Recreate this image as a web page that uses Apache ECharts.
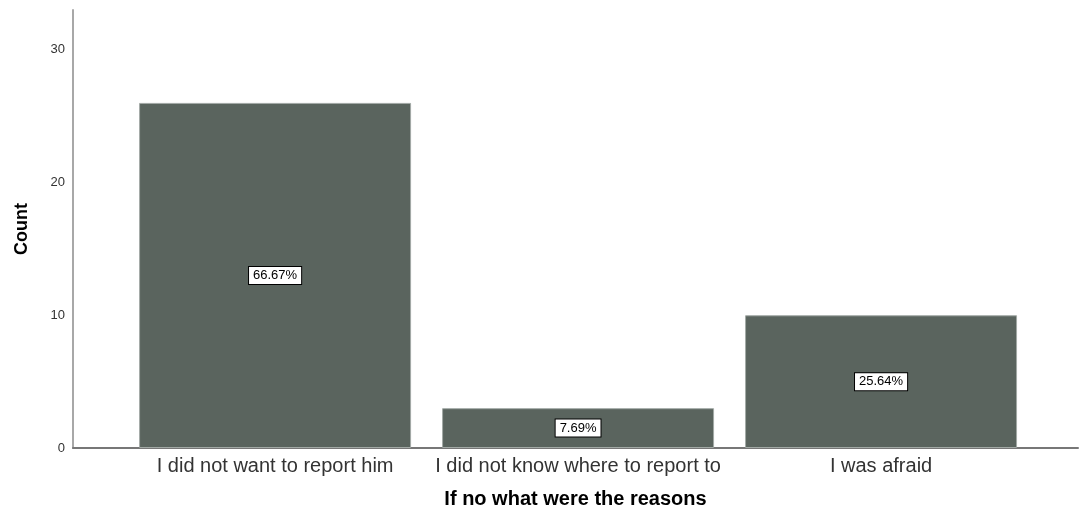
<!DOCTYPE html>
<html>
<head>
<meta charset="utf-8">
<script src="https://cdn.jsdelivr.net/npm/echarts@6/dist/echarts.min.js"></script>
<style>
  html, body {margin: 0; padding: 0; background: #fff;}
  #main {width: 1080px; height: 511px;}
</style>
</head>
<body>
<div id="main"></div>
<script>
// category names, counts and the percent labels as printed on the bars
const categories = ['I did not want to report him', 'I did not know where to report to', 'I was afraid'];
const counts = [26, 3, 10];
const percentLabels = ['66.67%', '7.69%', '25.64%'];
const yTicks = [0, 10, 20, 30];

const chart = echarts.init(document.getElementById('main'));

const barData = counts.map((c, i) => [i + 1, c]);

const option = {
  animation: false,
  textStyle: {fontFamily: '"Liberation Sans", Arial, sans-serif'},
  grid: {left: 73, right: 2, top: 10, bottom: 63, outerBoundsMode: 'none'},
  xAxis: {
    type: 'value',
    min: 0.333,
    max: 3.65,
    name: 'If no what were the reasons',
    nameLocation: 'middle',
    nameGap: 41,
    nameTextStyle: {fontSize: 20, fontWeight: 'bold', color: '#000'},
    splitLine: {show: false},
    axisTick: {show: false},
    axisLine: {show: true, lineStyle: {color: '#777', width: 2}},
    axisLabel: {
      customValues: [1, 2, 3],
      fontSize: 20,
      color: '#333',
      margin: 8,
      formatter: v => categories[Math.round(v) - 1] || ''
    }
  },
  yAxis: {
    type: 'value',
    min: 0,
    max: 33,
    name: 'Count',
    nameLocation: 'middle',
    nameGap: 42,
    nameTextStyle: {fontSize: 18, fontWeight: 'bold', color: '#000'},
    splitLine: {show: false},
    axisTick: {show: false},
    axisLine: {show: true, lineStyle: {color: '#a8a8a8', width: 2}},
    axisLabel: {
      customValues: yTicks,
      fontSize: 13,
      color: '#333',
      margin: 8
    }
  },
  series: [{
    type: 'bar',
    data: barData,
    barWidth: 272,
    itemStyle: {color: '#5a645e', borderColor: '#a3aaa6', borderWidth: 1},
    label: {
      show: true,
      position: 'inside',
      formatter: p => percentLabels[p.dataIndex],
      fontSize: 13,
      color: '#000',
      backgroundColor: '#fff',
      borderColor: '#000',
      borderWidth: 1,
      padding: [2, 4, 2, 4]
    }
  }]
};

chart.setOption(option);
</script>
</body>
</html>
